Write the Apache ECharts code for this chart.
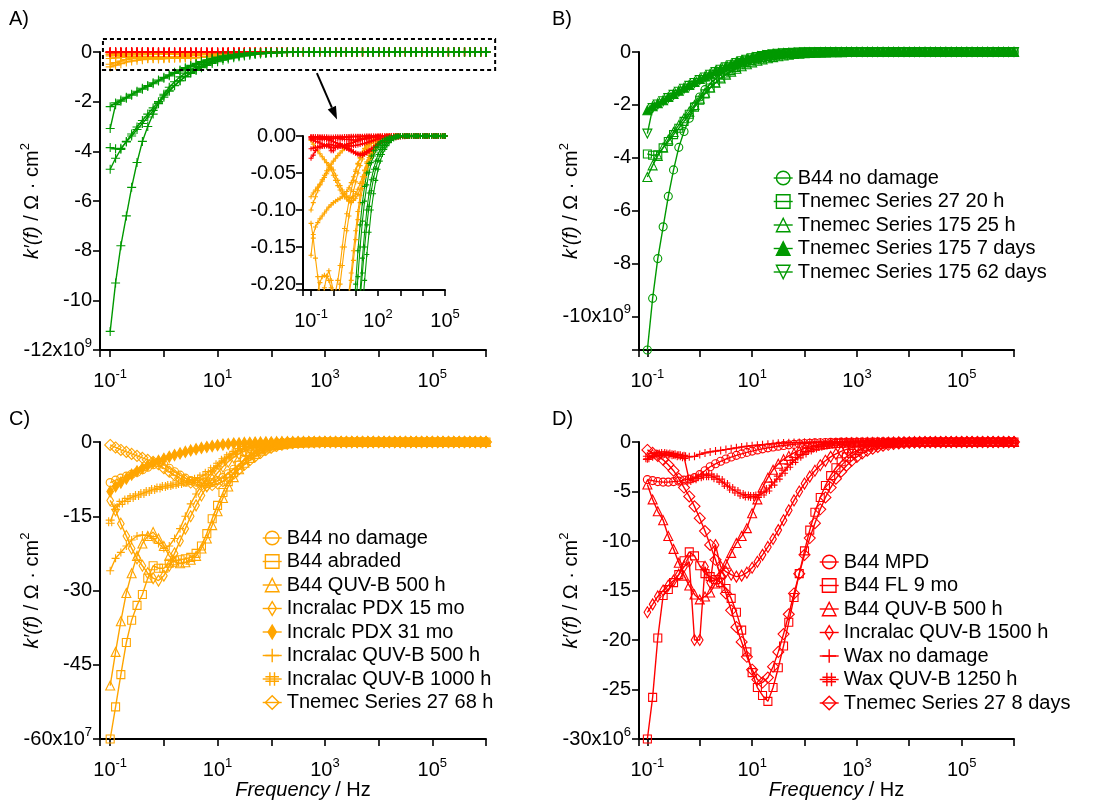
<!DOCTYPE html>
<html>
<head>
<meta charset="utf-8">
<script src="https://cdn.jsdelivr.net/npm/echarts@6.0.0/dist/echarts.min.js"></script>
<style>
html, body { margin: 0; padding: 0; background: #fff; }
#chart { width: 1102px; height: 804px; }
</style>
</head>
<body>
<div id="chart"></div>
<script>
// frequency, Hz (10 points per decade)
const freq = [
  0.1, 0.126, 0.158, 0.2, 0.251, 0.316, 0.398, 0.501, 0.631, 0.794,
  1, 1.26, 1.58, 2, 2.51, 3.16, 3.98, 5.01, 6.31, 7.94,
  10, 12.6, 15.8, 20, 25.1, 31.6, 39.8, 50.1, 63.1, 79.4,
  100, 126, 158, 200, 251, 316, 398, 501, 631, 794,
  1000, 1260, 1580, 2000, 2510, 3160, 3980, 5010, 6310, 7940,
  1e4, 1.26e4, 1.58e4, 2e4, 2.51e4, 3.16e4, 3.98e4, 5.01e4, 6.31e4, 7.94e4,
  1e5, 1.26e5, 1.58e5, 2e5, 2.51e5, 3.16e5, 3.98e5, 5.01e5, 6.31e5, 7.94e5,
  1e6
];

// panel B (green), k'(f) in 1e9 ohm cm2
const gB44NoDamage = [
  -11.25, -9.3, -7.8, -6.6, -5.45, -4.45, -3.6, -3.0, -2.5, -2.05,
  -1.7, -1.42, -1.2, -1.0, -0.85, -0.72, -0.6, -0.5, -0.42, -0.36,
  -0.31, -0.26, -0.22, -0.185, -0.15, -0.12, -0.095, -0.074, -0.057, -0.044,
  -0.033, -0.025, -0.018, -0.013, -0.009, -0.006, -0.004, -0.0025, -0.0015, -0.001,
  0, 0, 0, 0, 0, 0, 0, 0, 0, 0,
  0, 0, 0, 0, 0, 0, 0, 0, 0, 0,
  0, 0, 0, 0, 0, 0, 0, 0, 0, 0,
  0
];
const gTnemec27_20h = [
  -3.85, -3.9, -3.88, -3.62, -3.38, -3.12, -2.88, -2.62, -2.35, -2.08,
  -1.82, -1.58, -1.36, -1.16, -0.98, -0.83, -0.7, -0.58, -0.48, -0.4,
  -0.32, -0.26, -0.21, -0.165, -0.13, -0.1, -0.077, -0.059, -0.045, -0.034,
  -0.025, -0.018, -0.013, -0.009, -0.006, -0.004, -0.0025, -0.0015, -0.001, 0,
  0, 0, 0, 0, 0, 0, 0, 0, 0, 0,
  0, 0, 0, 0, 0, 0, 0, 0, 0, 0,
  0, 0, 0, 0, 0, 0, 0, 0, 0, 0,
  0
];
const gTnemec175_25h = [
  -4.72, -4.28, -3.92, -3.6, -3.3, -3.02, -2.76, -2.5, -2.25, -2.0,
  -1.76, -1.54, -1.34, -1.16, -1.0, -0.86, -0.74, -0.63, -0.54, -0.46,
  -0.39, -0.33, -0.28, -0.235, -0.195, -0.16, -0.13, -0.1, -0.078, -0.06,
  -0.045, -0.034, -0.025, -0.018, -0.013, -0.009, -0.006, -0.004, -0.0025, -0.0015,
  -0.001, 0, 0, 0, 0, 0, 0, 0, 0, 0,
  0, 0, 0, 0, 0, 0, 0, 0, 0, 0,
  0, 0, 0, 0, 0, 0, 0, 0, 0, 0,
  0
];
const gTnemec175_7d = [
  -2.2, -2.05, -1.93, -1.82, -1.7, -1.58, -1.46, -1.35, -1.24, -1.13,
  -1.02, -0.92, -0.82, -0.72, -0.63, -0.54, -0.46, -0.38, -0.31, -0.25,
  -0.2, -0.155, -0.12, -0.09, -0.068, -0.05, -0.037, -0.027, -0.02, -0.015,
  -0.011, -0.008, -0.006, -0.004, -0.003, -0.002, -0.0013, -0.0008, 0, 0,
  0, 0, 0, 0, 0, 0, 0, 0, 0, 0,
  0, 0, 0, 0, 0, 0, 0, 0, 0, 0,
  0, 0, 0, 0, 0, 0, 0, 0, 0, 0,
  0
];
const gTnemec175_62d = [
  -3.08, -2.12, -1.98, -1.86, -1.74, -1.62, -1.5, -1.39, -1.28, -1.17,
  -1.06, -0.96, -0.86, -0.76, -0.67, -0.58, -0.5, -0.42, -0.35, -0.29,
  -0.235, -0.19, -0.15, -0.115, -0.088, -0.066, -0.049, -0.036, -0.027, -0.02,
  -0.015, -0.011, -0.008, -0.006, -0.004, -0.003, -0.002, -0.001, 0, 0,
  0, 0, 0, 0, 0, 0, 0, 0, 0, 0,
  0, 0, 0, 0, 0, 0, 0, 0, 0, 0,
  0, 0, 0, 0, 0, 0, 0, 0, 0, 0,
  0
];

// panel C (orange), k'(f) in 1e7 ohm cm2
const oB44NoDamage = [
  -8.2, -7.7, -7.3, -6.9, -6.5, -6.1, -5.6, -5.1, -4.6, -4.2,
  -4.6, -5.3, -6.0, -6.7, -7.3, -7.8, -8.1, -8.3, -8.4, -8.2,
  -7.8, -7.2, -6.4, -5.5, -4.6, -3.7, -2.9, -2.2, -1.6, -1.15,
  -0.8, -0.55, -0.37, -0.25, -0.16, -0.1, -0.065, -0.04, -0.025, -0.015,
  -0.008, -0.004, 0, 0, 0, 0, 0, 0, 0, 0,
  0, 0, 0, 0, 0, 0, 0, 0, 0, 0,
  0, 0, 0, 0, 0, 0, 0, 0, 0, 0,
  0
];
const oB44Abraded = [
  -60, -53.5, -47, -40.5, -36, -33, -30.8, -27.5, -25, -25.5,
  -25.5, -24.5, -24, -23.8, -23.6, -23.3, -22.5, -21, -18.5, -15.5,
  -12.8, -10.2, -8, -6.2, -4.7, -3.5, -2.6, -1.9, -1.35, -0.95,
  -0.66, -0.45, -0.3, -0.2, -0.13, -0.08, -0.05, -0.03, -0.015, -0.008,
  -0.004, 0, 0, 0, 0, 0, 0, 0, 0, 0,
  0, 0, 0, 0, 0, 0, 0, 0, 0, 0,
  0, 0, 0, 0, 0, 0, 0, 0, 0, 0,
  0
];
const oB44Quvb500 = [
  -49.2, -42.4, -36.2, -30.5, -26.5, -23, -20.5, -19, -18.2, -19.5,
  -21, -23, -24.2, -24.5, -24.3, -23.8, -23, -21.5, -19.5, -16.8,
  -14, -11.3, -9, -7.1, -5.5, -4.2, -3.2, -2.4, -1.75, -1.25,
  -0.9, -0.62, -0.42, -0.28, -0.18, -0.12, -0.08, -0.05, -0.03, -0.015,
  -0.008, -0.004, 0, 0, 0, 0, 0, 0, 0, 0,
  0, 0, 0, 0, 0, 0, 0, 0, 0, 0,
  0, 0, 0, 0, 0, 0, 0, 0, 0, 0,
  0
];
const oIncralacPdx15 = [
  -11.8, -13.8, -16.5, -19, -21.5, -23.5, -25, -26.5, -27.5, -28,
  -27, -25, -22.5, -20, -17.5, -15, -12.8, -10.8, -9, -7.5,
  -6.2, -5, -4, -3.1, -2.4, -1.8, -1.35, -1, -0.72, -0.52,
  -0.37, -0.26, -0.18, -0.12, -0.08, -0.05, -0.03, -0.02, -0.01, -0.005,
  0, 0, 0, 0, 0, 0, 0, 0, 0, 0,
  0, 0, 0, 0, 0, 0, 0, 0, 0, 0,
  0, 0, 0, 0, 0, 0, 0, 0, 0, 0,
  0
];
const oIncralcPdx31 = [
  -10, -9.0, -8.2, -7.4, -6.6, -5.9, -5.3, -4.7, -4.2, -3.8,
  -3.4, -3.0, -2.65, -2.3, -2.0, -1.7, -1.45, -1.2, -1.0, -0.82,
  -0.66, -0.52, -0.41, -0.32, -0.25, -0.19, -0.15, -0.11, -0.085, -0.065,
  -0.05, -0.037, -0.027, -0.02, -0.014, -0.01, -0.007, -0.005, -0.003, -0.002,
  -0.001, 0, 0, 0, 0, 0, 0, 0, 0, 0,
  0, 0, 0, 0, 0, 0, 0, 0, 0, 0,
  0, 0, 0, 0, 0, 0, 0, 0, 0, 0,
  0
];
const oIncralacQuvb500 = [
  -26, -23.5, -22.3, -21, -19.8, -19, -18.8, -18.9, -19.5, -20.5,
  -21.5, -21, -19.5, -17.5, -15, -12.5, -10.5, -8.8, -7.3, -6,
  -4.8, -3.8, -3, -2.3, -1.7, -1.25, -0.9, -0.65, -0.45, -0.32,
  -0.22, -0.15, -0.1, -0.07, -0.05, -0.03, -0.02, -0.01, -0.005, 0,
  0, 0, 0, 0, 0, 0, 0, 0, 0, 0,
  0, 0, 0, 0, 0, 0, 0, 0, 0, 0,
  0, 0, 0, 0, 0, 0, 0, 0, 0, 0,
  0
];
const oIncralacQuvb1000 = [
  -16.1, -13.3, -12.3, -11.7, -11.2, -10.8, -10.4, -10, -9.6, -9.3,
  -9, -8.8, -8.6, -8.4, -8.2, -7.9, -7.5, -7, -6.3, -5.5,
  -4.6, -3.7, -2.9, -2.2, -1.65, -1.2, -0.87, -0.62, -0.44, -0.31,
  -0.22, -0.15, -0.1, -0.07, -0.05, -0.03, -0.02, -0.01, -0.005, 0,
  0, 0, 0, 0, 0, 0, 0, 0, 0, 0,
  0, 0, 0, 0, 0, 0, 0, 0, 0, 0,
  0, 0, 0, 0, 0, 0, 0, 0, 0, 0,
  0
];
const oTnemec27_68h = [
  -0.6, -1.1, -1.6, -2.0, -2.4, -2.8, -3.2, -3.6, -4.0, -4.5,
  -5.3, -6.0, -6.7, -7.3, -7.8, -8.2, -8.5, -8.7, -8.8, -8.7,
  -8.4, -7.9, -7.2, -6.4, -5.5, -4.6, -3.7, -2.9, -2.2, -1.6,
  -1.15, -0.8, -0.55, -0.37, -0.25, -0.16, -0.1, -0.065, -0.04, -0.025,
  -0.015, -0.008, -0.004, 0, 0, 0, 0, 0, 0, 0,
  0, 0, 0, 0, 0, 0, 0, 0, 0, 0,
  0, 0, 0, 0, 0, 0, 0, 0, 0, 0,
  0
];

// panel D (red), k'(f) in 1e6 ohm cm2
const rB44Mpd = [
  -3.8, -3.9, -4.0, -4.05, -4.05, -4.0, -3.95, -3.85, -3.75, -3.6,
  -3.3, -2.9, -2.5, -2.2, -1.95, -1.72, -1.52, -1.35, -1.2, -1.05,
  -0.92, -0.8, -0.69, -0.59, -0.5, -0.42, -0.35, -0.29, -0.24, -0.19,
  -0.15, -0.12, -0.09, -0.07, -0.05, -0.035, -0.025, -0.017, -0.011, -0.007,
  -0.004, -0.002, 0, 0, 0, 0, 0, 0, 0, 0,
  0, 0, 0, 0, 0, 0, 0, 0, 0, 0,
  0, 0, 0, 0, 0, 0, 0, 0, 0, 0,
  0
];
const rB44Fl9 = [
  -30, -25.8, -19.8, -15.5, -14.9, -14.2, -13.4, -12, -11.1, -11.5,
  -12.5, -13.3, -13.6, -13.9, -14.2, -14.8, -15.8, -17.2, -19, -21.2,
  -23.3, -24.8, -25.6, -26.2, -24.8, -22.8, -20.6, -18.2, -15.7, -13.3,
  -11, -8.9, -7.1, -5.6, -4.4, -3.4, -2.6, -2, -1.5, -1.15,
  -0.87, -0.66, -0.5, -0.38, -0.28, -0.21, -0.15, -0.11, -0.08, -0.06,
  -0.04, -0.03, -0.02, -0.014, -0.01, -0.007, -0.005, -0.003, 0, 0,
  0, 0, 0, 0, 0, 0, 0, 0, 0, 0,
  0
];
const rB44Quvb500 = [
  -4.3, -5.8, -7, -7.9, -9.5, -10.8, -12.2, -13.5, -14.5, -15.4,
  -15.9, -15.6, -15.2, -14.3, -13.3, -12.3, -11.2, -10.2, -9.5, -8.7,
  -7.2, -5.8, -4.6, -3.6, -2.8, -2.2, -1.75, -1.4, -1.1, -0.85,
  -0.65, -0.5, -0.38, -0.28, -0.2, -0.14, -0.1, -0.07, -0.05, -0.035,
  -0.024, -0.016, -0.01, -0.006, -0.004, -0.002, 0, 0, 0, 0,
  0, 0, 0, 0, 0, 0, 0, 0, 0, 0,
  0, 0, 0, 0, 0, 0, 0, 0, 0, 0,
  0
];
const rIncralacQuvb1500 = [
  -17.2, -16.4, -15.6, -15, -14.5, -14, -13.4, -12.6, -12.1, -20,
  -20, -12.6, -14.2, -10.4, -12.6, -13.1, -13.4, -13.6, -13.5, -13.2,
  -12.7, -12.1, -11.4, -10.6, -9.8, -8.9, -7.9, -6.9, -5.9, -5,
  -4.2, -3.5, -2.9, -2.35, -1.9, -1.5, -1.2, -0.95, -0.74, -0.57,
  -0.44, -0.34, -0.26, -0.2, -0.15, -0.11, -0.08, -0.06, -0.04, -0.03,
  -0.02, -0.014, -0.01, -0.006, -0.004, -0.002, 0, 0, 0, 0,
  0, 0, 0, 0, 0, 0, 0, 0, 0, 0,
  0
];
const rWaxNoDamage = [
  -1.7, -1.5, -1.35, -1.3, -1.25, -1.3, -1.35, -1.4, -1.5, -1.45,
  -1.25, -1.1, -1.0, -0.92, -0.85, -0.76, -0.68, -0.59, -0.5, -0.43,
  -0.37, -0.32, -0.27, -0.22, -0.17, -0.13, -0.1, -0.08, -0.06, -0.045,
  -0.033, -0.024, -0.017, -0.012, -0.008, -0.005, -0.003, -0.002, 0, 0,
  0, 0, 0, 0, 0, 0, 0, 0, 0, 0,
  0, 0, 0, 0, 0, 0, 0, 0, 0, 0,
  0, 0, 0, 0, 0, 0, 0, 0, 0, 0,
  0
];
const rWaxQuvb1250 = [
  -1.6, -1.3, -1.2, -1.15, -1.2, -1.3, -1.4, -1.5, -3.9, -3.7,
  -3.5, -3.4, -3.4, -3.6, -3.9, -4.3, -4.7, -5, -5.3, -5.45,
  -5.5, -5.45, -5.2, -4.8, -4.2, -3.6, -3, -2.4, -1.9, -1.45,
  -1.1, -0.82, -0.6, -0.44, -0.32, -0.23, -0.16, -0.11, -0.08, -0.055,
  -0.038, -0.026, -0.018, -0.012, -0.008, -0.005, -0.003, 0, 0, 0,
  0, 0, 0, 0, 0, 0, 0, 0, 0, 0,
  0, 0, 0, 0, 0, 0, 0, 0, 0, 0,
  0
];
const rTnemec27_8d = [
  -0.8, -1.1, -1.4, -1.8, -2.3, -2.9, -3.7, -4.6, -5.5, -6.5,
  -7.7, -9, -10.4, -11.9, -13.6, -15.3, -17, -18.7, -20.2, -21.7,
  -23, -24, -24.3, -23.8, -22.7, -21.2, -19.4, -17.4, -15.3, -13.3,
  -11.4, -9.7, -8.2, -6.8, -5.6, -4.6, -3.7, -3.0, -2.4, -1.9,
  -1.5, -1.15, -0.88, -0.67, -0.5, -0.38, -0.28, -0.21, -0.15, -0.11,
  -0.08, -0.06, -0.04, -0.03, -0.02, -0.014, -0.01, -0.006, -0.004, -0.002,
  0, 0, 0, 0, 0, 0, 0, 0, 0, 0,
  0
];

const GREEN = '#009900', ORANGE = '#ffa500', RED = '#ff0000';
const FONT = '"Liberation Sans", Arial, Helvetica, sans-serif';
const FS = 20;

// [symbol, filled, size]
const SYM = {
  circle: ['circle', false, 8],
  square: ['rect', false, 8],
  triangle: ['triangle', false, 9],
  triangleFill: ['triangle', true, 9],
  triangleDown: ['path://M0,0L10,0L5,8.66Z', false, 9],
  thinDiamond: ['path://M0,5M10,5M5,0L8,5L5,10L2,5Z', false, 11],
  thinDiamondFill: ['path://M0,5M10,5M5,0L8,5L5,10L2,5Z', true, 11],
  plus: ['path://M5,0L5,10M0,5L10,5', false, 8],
  hash: ['path://M3.3,0L3.3,10M6.7,0L6.7,10M0,3.3L10,3.3M0,6.7L10,6.7', false, 9],
  diamond: ['diamond', false, 11]
};

const greenSet = [
  ['B44 no damage', gB44NoDamage, 'circle'],
  ['Tnemec Series 27 20 h', gTnemec27_20h, 'square'],
  ['Tnemec Series 175 25 h', gTnemec175_25h, 'triangle'],
  ['Tnemec Series 175 7 days', gTnemec175_7d, 'triangleFill'],
  ['Tnemec Series 175 62 days', gTnemec175_62d, 'triangleDown']
];
const orangeSet = [
  ['B44 no damage', oB44NoDamage, 'circle'],
  ['B44 abraded', oB44Abraded, 'square'],
  ['B44 QUV-B 500 h', oB44Quvb500, 'triangle'],
  ['Incralac PDX 15 mo', oIncralacPdx15, 'thinDiamond'],
  ['Incralc PDX 31 mo', oIncralcPdx31, 'thinDiamondFill'],
  ['Incralac QUV-B 500 h', oIncralacQuvb500, 'plus'],
  ['Incralac QUV-B 1000 h', oIncralacQuvb1000, 'hash'],
  ['Tnemec Series 27 68 h', oTnemec27_68h, 'diamond']
];
const redSet = [
  ['B44 MPD', rB44Mpd, 'circle'],
  ['B44 FL 9 mo', rB44Fl9, 'square'],
  ['B44 QUV-B 500 h', rB44Quvb500, 'triangle'],
  ['Incralac QUV-B 1500 h', rIncralacQuvb1500, 'thinDiamond'],
  ['Wax no damage', rWaxNoDamage, 'plus'],
  ['Wax QUV-B 1250 h', rWaxQuvb1250, 'hash'],
  ['Tnemec Series 27 8 days', rTnemec27_8d, 'diamond']
];

const RICH = {
  b: { fontSize: FS, fontFamily: FONT, color: '#000' },
  i: { fontSize: FS, fontFamily: FONT, color: '#000', fontStyle: 'italic' },
  sup: { fontSize: 13, fontFamily: FONT, color: '#000', padding: [0, 0, 14, 0] }
};

function makeSeries(id, name, values, scale, color, symKey, axis, opt) {
  opt = opt || {};
  const s = SYM[symKey];
  return {
    type: 'line', name: id + '|' + name,
    xAxisIndex: axis, yAxisIndex: axis,
    data: freq.map((f, k) => [f, values[k] * scale]),
    symbol: s[0], symbolSize: opt.size || s[2],
    showSymbol: true, showAllSymbol: true,
    clip: !!opt.clip, silent: true, animation: false,
    lineStyle: { color: color, width: opt.lw || 1.4 },
    itemStyle: { color: s[1] ? color : 'rgba(0,0,0,0)', borderColor: color, borderWidth: 1.1 },
    emphasis: { disabled: true }
  };
}

const decadeLabel = shown => v => {
  const e = Math.log10(v), r = Math.round(e);
  if (Math.abs(e - r) > 1e-6 || shown.indexOf(r) < 0) return '';
  return '{b|10}{sup|' + r + '}';
};
const linLabel = (step, bottom, sup) => v => {
  const q = v / step;
  if (Math.abs(q - Math.round(q)) > 1e-6) return '';
  const r = Math.round(q) * step;
  return r === bottom ? '{b|' + r + 'x10}{sup|' + sup + '}' : '{b|' + (r === 0 ? 0 : r) + '}';
};
const insetYLabel = v => {
  const q = v / 0.05;
  if (Math.abs(q - Math.round(q)) > 1e-6) return '';
  return '{b|' + (Math.round(q) * 0.05).toFixed(2) + '}';
};

const axisLineStyle = { color: '#000', width: 2 };
function xAxis(grid, min, max, shown, extra) {
  return Object.assign({
    type: 'log', logBase: 10, gridIndex: grid, min: min, max: max,
    axisLine: { show: true, onZero: false, lineStyle: axisLineStyle },
    axisTick: { show: true, inside: false, length: 7, lineStyle: { color: '#000', width: 1.6 } },
    minorTick: { show: false }, splitLine: { show: false }, minorSplitLine: { show: false },
    axisLabel: { show: true, margin: 18, formatter: decadeLabel(shown), rich: RICH, color: '#000', fontSize: FS, fontFamily: FONT }
  }, extra || {});
}
const yName = '{i|k\u2032(f)} / \u03a9 \u00b7 cm{sup|2}';
function yAxis(grid, min, max, fmt, extra) {
  return Object.assign({
    type: 'value', gridIndex: grid, min: min, max: max,
    axisLine: { show: true, onZero: false, lineStyle: axisLineStyle },
    axisTick: { show: true, inside: false, length: 7, lineStyle: { color: '#000', width: 1.6 } },
    splitLine: { show: false },
    axisLabel: { show: true, margin: 8, formatter: fmt, rich: RICH, color: '#000', fontSize: FS, fontFamily: FONT },
    name: yName, nameLocation: 'middle', nameRotate: 90, nameGap: 54, nameMoveOverlap: false,
    nameTextStyle: { fontSize: FS, fontFamily: FONT, color: '#000', rich: RICH }
  }, extra || {});
}
const xName = {
  name: '{i|Frequency} / Hz', nameLocation: 'middle', nameGap: 41, nameMoveOverlap: false,
  nameTextStyle: { fontSize: FS, fontFamily: FONT, color: '#000', rich: RICH, padding: [0, 0, 0, 20] }
};

const series = [];
// panel A: every group on one axis in 1e9 units, then the zoomed inset
[[orangeSet, ORANGE, 0.01], [redSet, RED, 0.001], [greenSet, GREEN, 1]].forEach(([set, color, scale]) => {
  set.forEach(([name, vals]) => series.push(makeSeries('A', name + color, vals, scale, color, 'plus', 0, { size: 9 })));
});
[[orangeSet, ORANGE, 0.01], [redSet, RED, 0.001], [greenSet, GREEN, 1]].forEach(([set, color, scale]) => {
  set.forEach(([name, vals]) => series.push(makeSeries('I', name + color, vals, scale, color, 'plus', 1, { size: 5, clip: true, lw: 1.1 })));
});
greenSet.forEach(([name, vals, sym]) => series.push(makeSeries('B', name, vals, 1, GREEN, sym, 2)));
orangeSet.forEach(([name, vals, sym]) => series.push(makeSeries('C', name, vals, 1, ORANGE, sym, 3)));
redSet.forEach(([name, vals, sym]) => series.push(makeSeries('D', name, vals, 1, RED, sym, 4)));

const legendBase = {
  orient: 'vertical', padding: 0, itemWidth: 19, itemHeight: 17, itemGap: 3.5,
  selectedMode: false, formatter: n => n.slice(2),
  textStyle: { fontSize: FS, fontFamily: FONT, color: '#000', lineHeight: 20 },
  itemStyle: { borderWidth: 1.4 }, lineStyle: { width: 1.4 }
};

const chart = echarts.init(document.getElementById('chart'), null, { renderer: 'canvas' });
const gridBase = { containLabel: false, outerBoundsMode: 'none', show: false };
chart.setOption({
  backgroundColor: '#fff',
  animation: false,
  textStyle: { fontFamily: FONT },
  grid: [
    Object.assign({ left: 100, top: 52, width: 386, height: 298 }, gridBase),
    Object.assign({ left: 303, top: 136, width: 142, height: 154 }, gridBase),
    Object.assign({ left: 639, top: 52, width: 375, height: 298 }, gridBase),
    Object.assign({ left: 100, top: 442, width: 386, height: 297 }, gridBase),
    Object.assign({ left: 639, top: 442, width: 375, height: 297 }, gridBase)
  ],
  xAxis: [
    xAxis(0, 0.0646, 1e6, [-1, 1, 3, 5]),
    xAxis(1, 0.0437, 1e5, [-1, 2, 5], { axisTick: { show: true, length: 6, lineStyle: { color: '#000', width: 1.6 } } }),
    xAxis(2, 0.0692, 1e6, [-1, 1, 3, 5]),
    xAxis(3, 0.0646, 1e6, [-1, 1, 3, 5], xName),
    xAxis(4, 0.0692, 1e6, [-1, 1, 3, 5], xName)
  ],
  yAxis: [
    yAxis(0, -12, 0, linLabel(2, -12, 9), { interval: 2 }),
    yAxis(1, -0.208, 0, insetYLabel, { name: '', splitNumber: 4, axisLabel: { show: true, margin: 7, formatter: insetYLabel, rich: RICH, color: '#000', fontSize: FS, fontFamily: FONT } }),
    yAxis(2, -11.25, 0, linLabel(2, -10, 9), { splitNumber: 6 }),
    yAxis(3, -60, 0, linLabel(15, -60, 7), { interval: 15 }),
    yAxis(4, -30, 0, linLabel(5, -30, 6), { interval: 5 })
  ],
  legend: [
    Object.assign({ left: 773, top: 168, data: greenSet.map(s => 'B|' + s[0]) }, legendBase),
    Object.assign({ left: 262, top: 528, data: orangeSet.map(s => 'C|' + s[0]) }, legendBase),
    Object.assign({ left: 819, top: 552, data: redSet.map(s => 'D|' + s[0]) }, legendBase)
  ],
  series: series
});

// panel letters, the dashed zoom box and the arrow to the inset
const toA = p => chart.convertToPixel({ xAxisIndex: 0, yAxisIndex: 0 }, p);
const boxTL = toA([0.0733, 0.52]);
const boxBR = toA([1.48e6, -0.72]);
const a0 = toA([708, -0.85]);
const a1 = toA([1680, -2.72]);
const dx = a1[0] - a0[0], dy = a1[1] - a0[1], len = Math.hypot(dx, dy);
const ux = dx / len, uy = dy / len, head = 13, hw = 4.5;
const bx = a1[0] - ux * head, by = a1[1] - uy * head;
const letter = (t, x, y) => ({ type: 'text', left: x, top: y, style: { text: t, fontSize: FS, fontFamily: FONT, fill: '#000' } });
chart.setOption({
  graphic: [
    letter('A)', 9, 9), letter('B)', 552, 9), letter('C)', 9, 409), letter('D)', 552, 409),
    { type: 'rect', z: 50, shape: { x: boxTL[0], y: boxTL[1], width: boxBR[0] - boxTL[0], height: boxBR[1] - boxTL[1] },
      style: { fill: 'none', stroke: '#000', lineWidth: 2, lineDash: [4, 3] } },
    { type: 'line', z: 50, shape: { x1: a0[0], y1: a0[1], x2: bx, y2: by }, style: { stroke: '#000', lineWidth: 2 } },
    { type: 'polygon', z: 50, shape: { points: [[a1[0], a1[1]], [bx - uy * hw, by + ux * hw], [bx + uy * hw, by - ux * hw]] }, style: { fill: '#000' } }
  ]
});
</script>
</body>
</html>
